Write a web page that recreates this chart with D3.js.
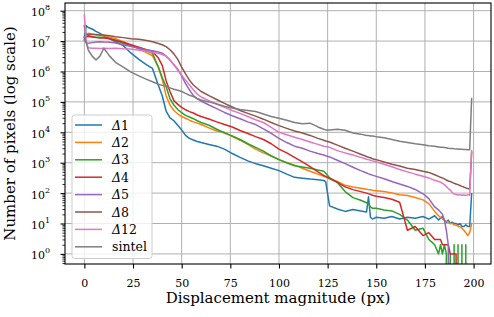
<!DOCTYPE html>
<html>
<head>
<meta charset="utf-8">
<script src="https://cdn.jsdelivr.net/npm/d3@7"></script>
<style>
  body { margin: 0; background: #fff; }
  text { font-family: "DejaVu Serif", serif; }
</style>
</head>
<body>
<div id="chart"></div>
<script>
// displacement magnitude (px) at which the histograms were read
var disp = [0,1,2,4,6,8,10,13,16,20, 24,28,32,35,38,40,42,44,46,48,
  50,52,54,56,58,60,64,68,72,76, 80,84,88,92,96,100,104,108,112,116,
  120,123,124,126,130,134,138,142,145,146, 147,148,150,154,158,162,166,170,174,177,
  180,182,183,184,185,186,187,188,189,190, 191,192,193,194,195,196,197,198,199];

// number of pixels per displacement (0 = empty bin)
var delta1 = [1.3e7,3.2e7,2.8e7,2.5e7,2.1e7,1.8e7,1.5e7,1.2e7,9.5e6,7.1e6,
  4.0e6,2.5e6,1.66e6,1.26e6,3.5e5,1.6e5,5.0e4,3.0e4,2.4e4,1.7e4,
  1.2e4,7.9e3,6.3e3,5.6e3,5.0e3,4.6e3,4.0e3,3.5e3,2.8e3,2.0e3,
  1.5e3,1150,930,790,660,550,420,330,310,290,
  275,260,240,38,30,25,29,26,24,76,
  16,14,16,15,17,14,16,15,17,14,
  18,13,15,17,13,11,13,10,11,10,
  10,9,10,8,8,9,8,8,95];
var delta2 = [1.0e7,1.6e7,1.8e7,1.7e7,1.6e7,1.6e7,1.5e7,1.35e7,1.2e7,9.5e6,
  7.4e6,5.6e6,4.2e6,3.3e6,1.4e6,5.6e5,1.6e5,7.9e4,5.2e4,4.0e4,
  3.3e4,2.9e4,2.5e4,2.2e4,2.0e4,1.8e4,1.4e4,1.1e4,1.0e4,7.2e3,
  5.5e3,4.0e3,2.8e3,2.1e3,1.7e3,1.26e3,1.0e3,830,660,525,
  420,360,340,300,240,180,160,145,135,130,
  130,125,120,112,100,89,83,72,60,45,
  25,18,16,14,13,12,11,10,10,9,
  9,8,8,7,6,5,4,5,10];
var delta3 = [1.1e7,1.4e7,1.4e7,1.4e7,1.35e7,1.35e7,1.35e7,1.2e7,1.05e7,8.5e6,
  7.1e6,5.8e6,4.8e6,4.0e6,1.4e6,6.3e5,3.2e5,1.26e5,7.9e4,5.6e4,
  4.4e4,3.6e4,3.2e4,2.8e4,2.4e4,2.1e4,1.7e4,1.26e4,9.5e3,7.6e3,
  5.8e3,4.2e3,3.2e3,2.4e3,1.66e3,1.26e3,1.0e3,790,720,660,
  575,525,450,320,225,112,71,58,48,45,
  35,32,32,28,26,20,13,6,7,3,
  2,1,2,1,2,1,0,1,0,2,
  0,2,0,2,0,2,0,0,0];
var delta4 = [1.26e7,1.4e7,1.5e7,1.4e7,1.3e7,1.26e7,1.26e7,1.2e7,1.07e7,9.1e6,
  7.6e6,6.3e6,5.2e6,4.6e6,2.8e6,1.6e6,5.0e5,2.2e5,1.1e5,8.3e4,
  6.6e4,5.5e4,4.8e4,4.3e4,3.7e4,3.3e4,2.75e4,2.2e4,1.8e4,1.5e4,
  1.15e4,9.1e3,7.2e3,5.8e3,4.2e3,2.8e3,2.1e3,1.5e3,1.07e3,740,
  500,380,355,300,225,160,130,112,100,95,
  91,85,79,72,63,50,6,8,4,5,
  3,3,3,2,2,2,2,1,1,1,
  1,0,0,0,0,0,0,0,0];
var delta5 = [1.1e7,8.5e6,8.5e6,8.9e6,9.3e6,9.5e6,9.3e6,9.1e6,8.7e6,7.6e6,
  6.6e6,5.8e6,5.1e6,4.8e6,4.4e6,4.0e6,3.2e6,2.4e6,1.66e6,1.2e6,
  7.1e5,4.0e5,2.5e5,1.6e5,1.26e5,1.07e5,7.9e4,6.0e4,4.5e4,3.5e4,
  2.8e4,2.2e4,1.8e4,1.3e4,9.3e3,6.3e3,4.6e3,3.5e3,3.0e3,2.4e3,
  2.0e3,1.8e3,1.7e3,1.55e3,1.2e3,930,710,550,460,430,
  410,390,355,295,240,200,166,132,95,66,
  35,28,24,20,13,6,2,0,0,0,
  0,0,0,0,0,0,0,0,0];
var delta8 = [3.2e7,1.6e7,1.66e7,1.66e7,1.66e7,1.6e7,1.6e7,1.5e7,1.4e7,1.3e7,
  1.2e7,1.15e7,1.05e7,9.5e6,8.3e6,7.6e6,6.6e6,5.2e6,3.8e6,2.5e6,
  1.4e6,8.3e5,5.2e5,3.6e5,2.8e5,2.2e5,1.6e5,1.2e5,8.9e4,6.8e4,
  5.2e4,4.2e4,3.4e4,2.7e4,2.1e4,1.66e4,1.35e4,1.1e4,9.5e3,7.9e3,
  6.3e3,5.5e3,5.2e3,4.8e3,3.8e3,3.0e3,2.4e3,1.9e3,1.6e3,1.5e3,
  1.45e3,1.35e3,1.26e3,1.05e3,890,780,660,600,525,480,
  400,355,330,316,295,270,250,240,225,210,
  200,190,178,166,158,148,141,135,2.2e3];
var delta12 = [7.2e7,1.0e7,6.0e6,5.8e6,5.8e6,5.7e6,5.8e6,5.7e6,5.8e6,5.6e6,
  5.5e6,5.0e6,4.6e6,4.2e6,4.0e6,3.6e6,3.2e6,2.4e6,1.66e6,1.1e6,
  7.6e5,5.2e5,3.6e5,2.5e5,1.8e5,1.45e5,1.1e5,8.5e4,6.6e4,5.2e4,
  4.2e4,3.3e4,2.6e4,2.1e4,1.45e4,1.0e4,8.3e3,6.9e3,5.8e3,4.8e3,
  4.0e3,3.5e3,3.4e3,3.2e3,2.5e3,2.1e3,1.8e3,1.5e3,1.3e3,1.26e3,
  1.2e3,1.15e3,1.07e3,890,740,600,500,420,360,316,
  263,240,230,210,190,166,141,126,105,93,
  91,87,89,85,87,83,89,85,2.5e3];
var sintel = [1.4e7,8.9e6,5.1e6,3.2e6,2.4e6,3.2e6,5.8e6,3.2e6,2.0e6,1.4e6,
  9.5e5,7.2e5,5.5e5,4.6e5,3.8e5,3.5e5,3.2e5,2.9e5,2.6e5,2.4e5,
  2.2e5,1.9e5,1.66e5,1.5e5,1.3e5,1.15e5,1.0e5,8.5e4,7.2e4,6.3e4,
  5.6e4,5.2e4,4.8e4,4.0e4,3.3e4,2.9e4,2.5e4,2.1e4,1.9e4,2.0e4,
  1.5e4,1.26e4,1.2e4,1.2e4,1.26e4,1.17e4,9.5e3,8.7e3,7.9e3,7.9e3,
  7.6e3,7.6e3,7.2e3,6.6e3,5.8e3,5.1e3,4.6e3,4.2e3,3.9e3,3.6e3,
  3.5e3,3.3e3,3.2e3,3.2e3,3.15e3,3.1e3,3.0e3,2.95e3,2.95e3,2.9e3,
  2.8e3,2.8e3,2.75e3,2.75e3,2.7e3,2.7e3,2.65e3,2.65e3,1.3e5];

var seriesNames = ["Δ1", "Δ2", "Δ3", "Δ4", "Δ5", "Δ8", "Δ12", "sintel"];
var seriesValues = [delta1, delta2, delta3, delta4, delta5, delta8, delta12, sintel];
var seriesColors = ["#1f77b4", "#ff7f0e", "#2ca02c", "#d62728", "#9467bd", "#8c564b", "#e377c2", "#7f7f7f"];

var xTicks = [0, 25, 50, 75, 100, 125, 150, 175, 200];
var yTickExps = [0, 1, 2, 3, 4, 5, 6, 7, 8];

// Set the margins
var margin = { top: 3, right: 3, bottom: 53, left: 65 },
  width = 494 - margin.left - margin.right,
  height = 317 - margin.top - margin.bottom;

var svg = d3.select("#chart").append("svg")
  .attr("width", 494).attr("height", 317);

svg.append("defs").append("clipPath").attr("id", "plot-clip")
  .append("rect").attr("width", width).attr("height", height);

var g = svg.append("g")
  .attr("transform", "translate(" + margin.left + "," + margin.top + ")");

// scales
var x = d3.scaleLinear().domain([-9.95, 208.95]).range([0, width]);
var y = d3.scaleLog().domain([Math.pow(10, -0.332), Math.pow(10, 8.253)]).range([height, 0]);

var yMajor = yTickExps.map(function (e) { return Math.pow(10, e); });
var yMinor = y.ticks(30).filter(function (v) {
  var l = Math.log10(v);
  return Math.abs(l - Math.round(l)) > 1e-6;
});

// grid
g.append("g").selectAll("line").data(xTicks).enter().append("line")
  .attr("x1", function (d) { return x(d); })
  .attr("x2", function (d) { return x(d); })
  .attr("y1", 0).attr("y2", height)
  .attr("stroke", "#b0b0b0").attr("stroke-width", 1);
g.append("g").selectAll("line").data(yMajor).enter().append("line")
  .attr("x1", 0).attr("x2", width)
  .attr("y1", function (d) { return y(d); })
  .attr("y2", function (d) { return y(d); })
  .attr("stroke", "#b0b0b0").attr("stroke-width", 1);

// lines (empty bins go below the axes, like matplotlib clipping)
var line = d3.line()
  .x(function (d, i) { return x(disp[i]); })
  .y(function (d) { return d > 0 ? y(d) : height + 3000; });

g.append("g").attr("clip-path", "url(#plot-clip)")
  .selectAll("path").data(seriesValues).enter().append("path")
  .attr("d", line)
  .attr("fill", "none")
  .attr("stroke", function (d, i) { return seriesColors[i]; })
  .attr("stroke-width", 1.5)
  .attr("stroke-linejoin", "round")
  .attr("stroke-linecap", "square");

// X axis
var xaxis = g.append("g")
  .attr("transform", "translate(0," + height + ")")
  .call(d3.axisBottom(x).tickValues(xTicks).tickSizeInner(4.5).tickSizeOuter(0).tickPadding(11));
xaxis.select(".domain").remove();
xaxis.attr("font-family", '"DejaVu Serif", serif').attr("font-size", 11);
xaxis.selectAll("line").attr("stroke", "#000").attr("stroke-width", 1.1);
xaxis.selectAll("text").attr("fill", "#000");

// Y axis: major + minor ticks
var yaxis = g.append("g")
  .call(d3.axisLeft(y).tickValues(yMajor).tickSizeInner(4.5).tickSizeOuter(0).tickFormat(""));
yaxis.select(".domain").remove();
yaxis.selectAll("line").attr("stroke", "#000").attr("stroke-width", 1.1);

var yminor = g.append("g")
  .call(d3.axisLeft(y).tickValues(yMinor).tickSizeInner(2.6).tickSizeOuter(0).tickFormat(""));
yminor.select(".domain").remove();
yminor.selectAll("line").attr("stroke", "#000").attr("stroke-width", 0.8);

// y tick labels 10^n
var ylabels = g.append("g").selectAll("text").data(yTickExps).enter().append("text")
  .attr("x", -15)
  .attr("y", function (d) { return y(Math.pow(10, d)) + 5.5; })
  .attr("text-anchor", "end")
  .attr("font-size", 11)
  .attr("fill", "#000");
ylabels.append("tspan").text("10");
ylabels.append("tspan").attr("dy", -6).attr("font-size", 8)
  .text(function (d) { return d; });

// frame
g.append("rect").attr("width", width).attr("height", height)
  .attr("fill", "none").attr("stroke", "#000").attr("stroke-width", 1.1);

// axis labels
svg.append("text")
  .attr("x", margin.left + width / 2).attr("y", 303)
  .attr("text-anchor", "middle").attr("font-size", 15)
  .text("Displacement magnitude (px)");
svg.append("text")
  .attr("transform", "translate(15," + (margin.top + height / 2) + ") rotate(-90)")
  .attr("text-anchor", "middle").attr("font-size", 15)
  .text("Number of pixels (log scale)");

// LEGEND
var legend = svg.append("g").attr("transform", "translate(72,115)");
legend.append("rect")
  .attr("width", 80).attr("height", 143.5).attr("rx", 2.8)
  .attr("fill", "#fff").attr("fill-opacity", 0.8)
  .attr("stroke", "#cccccc").attr("stroke-width", 1);

var item = legend.selectAll(".item").data(seriesNames).enter().append("g")
  .attr("class", "item")
  .attr("transform", function (d, i) { return "translate(0," + (10 + i * 17.4) + ")"; });
item.append("line")
  .attr("x1", 3).attr("x2", 30)
  .attr("stroke", function (d, i) { return seriesColors[i]; })
  .attr("stroke-width", 1.5);
var itemText = item.append("text")
  .attr("x", 40).attr("dy", "0.36em")
  .attr("font-size", 12.5).attr("fill", "#000");
itemText.each(function (d) {
  var t = d3.select(this);
  if (d.charAt(0) === "Δ") {
    t.append("tspan").attr("font-style", "italic").text("Δ");
    t.append("tspan").text(d.slice(1));
  } else {
    t.text(d);
  }
});
</script>
</body>
</html>
